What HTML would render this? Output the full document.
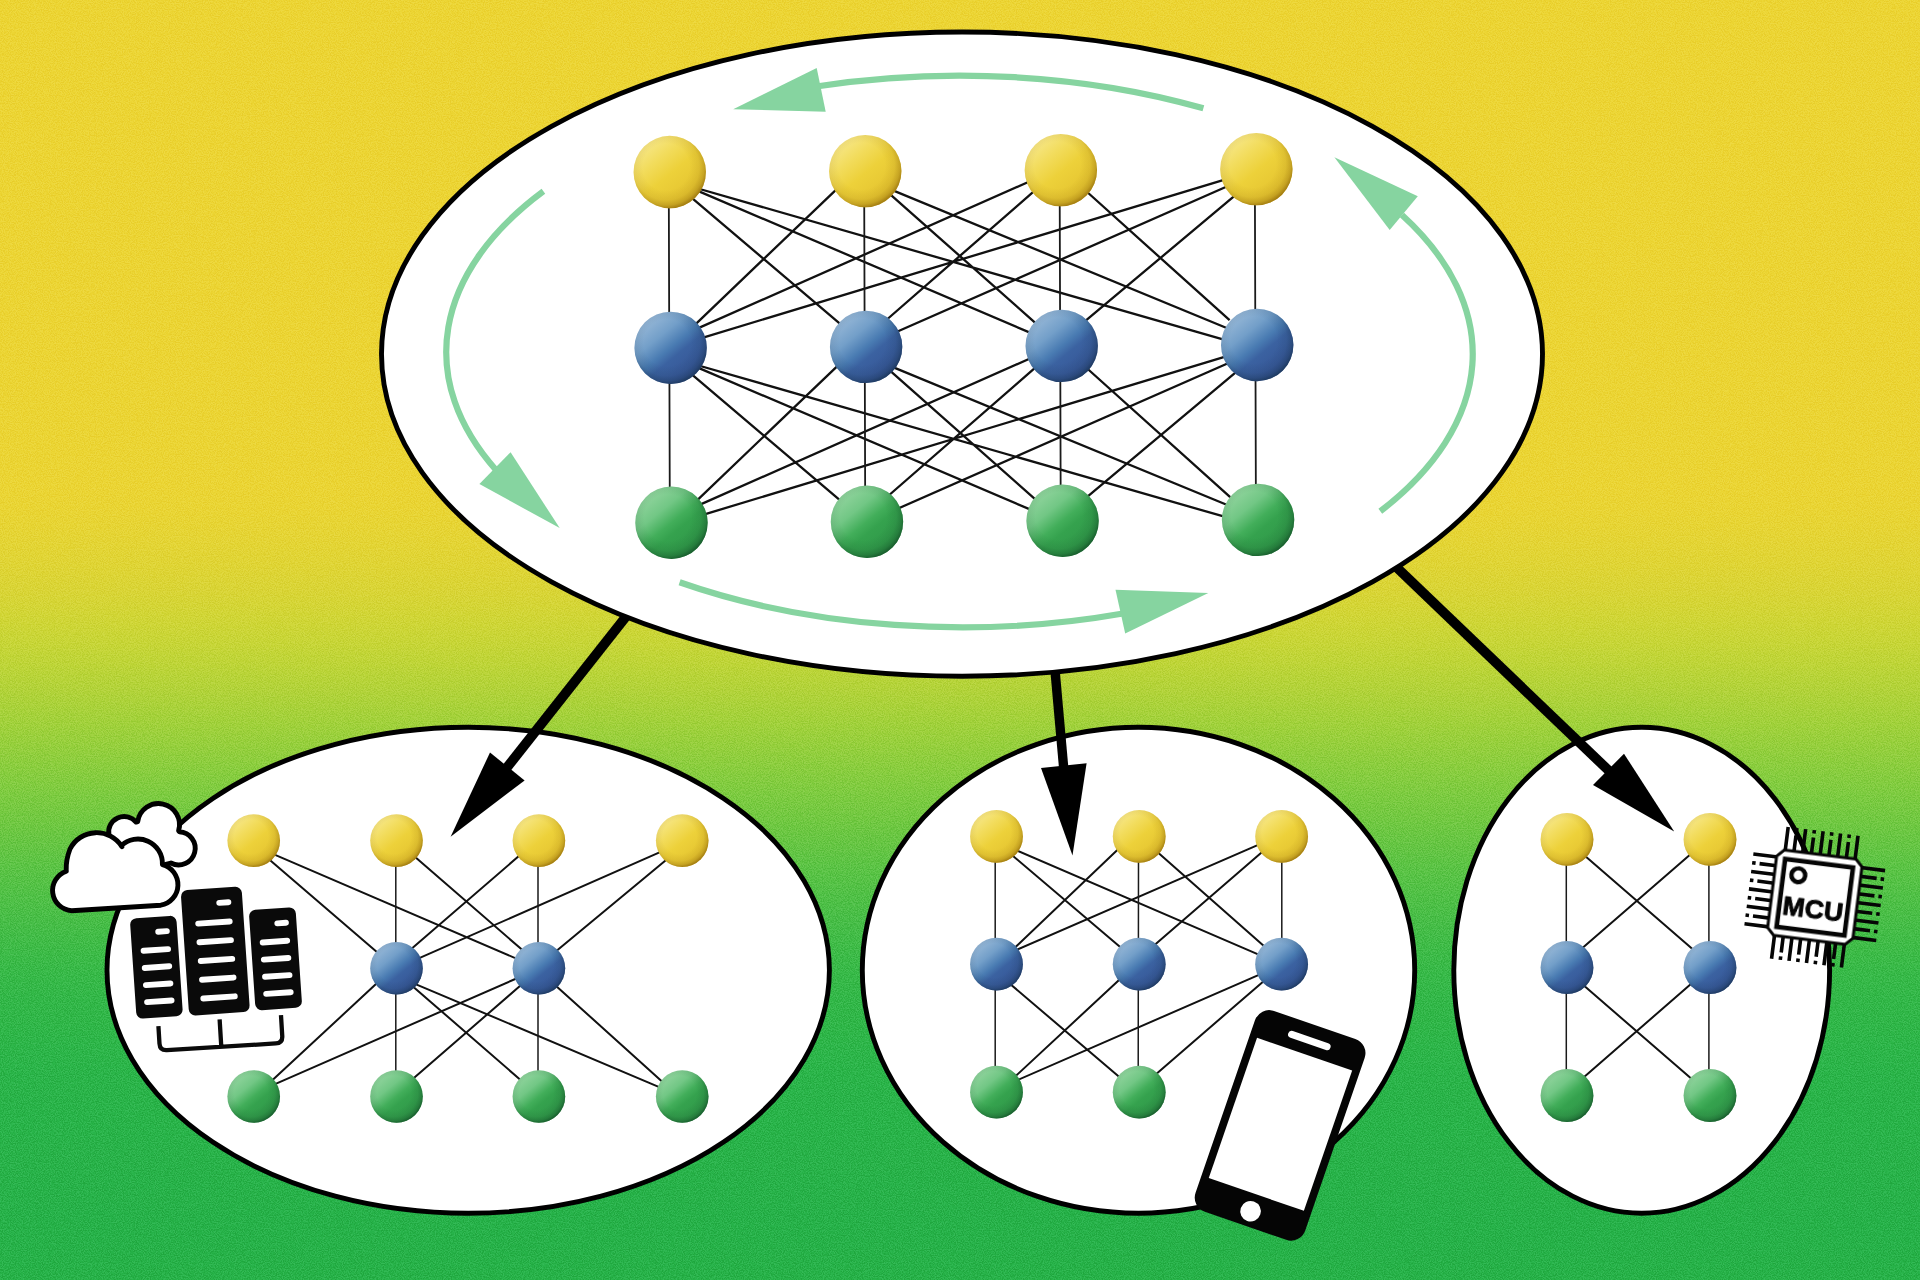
<!DOCTYPE html>
<html><head><meta charset="utf-8"><title>Once-for-all network</title>
<style>html,body{margin:0;padding:0;background:#2bb84a;overflow:hidden}body{width:1920px;height:1280px;font-family:"Liberation Sans",sans-serif}svg{display:block}</style></head><body>
<svg width="1920" height="1280" viewBox="0 0 1920 1280">
<defs>
<linearGradient id="bg" x1="0" y1="0" x2="0" y2="1"><stop offset="0.000" stop-color="#ecd533"/><stop offset="0.180" stop-color="#ecd533"/><stop offset="0.360" stop-color="#ebd533"/><stop offset="0.380" stop-color="#ebd533"/><stop offset="0.400" stop-color="#e9d533"/><stop offset="0.420" stop-color="#e5d534"/><stop offset="0.440" stop-color="#e0d534"/><stop offset="0.460" stop-color="#dad535"/><stop offset="0.480" stop-color="#d2d635"/><stop offset="0.500" stop-color="#c9d636"/><stop offset="0.520" stop-color="#bed537"/><stop offset="0.540" stop-color="#b2d339"/><stop offset="0.560" stop-color="#a5d23a"/><stop offset="0.580" stop-color="#98d03c"/><stop offset="0.600" stop-color="#8bce3e"/><stop offset="0.620" stop-color="#7ecc40"/><stop offset="0.640" stop-color="#72c941"/><stop offset="0.660" stop-color="#66c643"/><stop offset="0.680" stop-color="#5ac445"/><stop offset="0.700" stop-color="#50c146"/><stop offset="0.720" stop-color="#47be47"/><stop offset="0.740" stop-color="#3ebc47"/><stop offset="0.760" stop-color="#37ba48"/><stop offset="0.780" stop-color="#32b848"/><stop offset="0.800" stop-color="#2fb748"/><stop offset="0.820" stop-color="#2cb649"/><stop offset="0.840" stop-color="#2ab549"/><stop offset="0.860" stop-color="#29b449"/><stop offset="0.880" stop-color="#28b449"/><stop offset="0.900" stop-color="#28b349"/><stop offset="0.950" stop-color="#26b249"/><stop offset="1.000" stop-color="#26b248"/></linearGradient>
<linearGradient id="gy" x1="0.16" y1="0.08" x2="0.84" y2="0.92"><stop offset="0" stop-color="#f7e88c"/><stop offset="0.28" stop-color="#f2dc5c"/><stop offset="0.52" stop-color="#edd13a"/><stop offset="1" stop-color="#e2c02d"/></linearGradient>
<radialGradient id="gyr" cx="0.45" cy="0.43" r="0.585"><stop offset="0" stop-color="#8c6406" stop-opacity="0"/><stop offset="0.55" stop-color="#8c6406" stop-opacity="0"/><stop offset="0.78" stop-color="#8c6406" stop-opacity="0.13"/><stop offset="0.9" stop-color="#8c6406" stop-opacity="0.36"/><stop offset="1" stop-color="#8c6406" stop-opacity="0.78"/></radialGradient>
<linearGradient id="gb" x1="0.16" y1="0.08" x2="0.84" y2="0.92"><stop offset="0" stop-color="#9bbbd9"/><stop offset="0.3" stop-color="#739fc9"/><stop offset="0.5" stop-color="#497bb2"/><stop offset="0.62" stop-color="#3b62a1"/><stop offset="1" stop-color="#345293"/></linearGradient>
<radialGradient id="gbr" cx="0.45" cy="0.43" r="0.585"><stop offset="0" stop-color="#17324f" stop-opacity="0"/><stop offset="0.55" stop-color="#17324f" stop-opacity="0"/><stop offset="0.78" stop-color="#17324f" stop-opacity="0.13"/><stop offset="0.9" stop-color="#17324f" stop-opacity="0.36"/><stop offset="1" stop-color="#17324f" stop-opacity="0.78"/></radialGradient>
<linearGradient id="gg" x1="0.16" y1="0.08" x2="0.84" y2="0.92"><stop offset="0" stop-color="#95d6a1"/><stop offset="0.3" stop-color="#72c785"/><stop offset="0.5" stop-color="#42ae5a"/><stop offset="0.62" stop-color="#35a24e"/><stop offset="1" stop-color="#2e9647"/></linearGradient>
<radialGradient id="ggr" cx="0.45" cy="0.43" r="0.585"><stop offset="0" stop-color="#124a25" stop-opacity="0"/><stop offset="0.55" stop-color="#124a25" stop-opacity="0"/><stop offset="0.78" stop-color="#124a25" stop-opacity="0.13"/><stop offset="0.9" stop-color="#124a25" stop-opacity="0.36"/><stop offset="1" stop-color="#124a25" stop-opacity="0.78"/></radialGradient>
<filter id="grain" x="0" y="0" width="100%" height="100%" color-interpolation-filters="sRGB">
<feTurbulence type="fractalNoise" baseFrequency="0.85" numOctaves="2" seed="7" result="n"/>
<feColorMatrix type="matrix" values="3 0 0 0 -1  3 0 0 0 -1  3 0 0 0 -1  0 0 0 0 1"/>
</filter>
</defs>
<rect width="1920" height="1280" fill="url(#bg)"/>
<rect width="1920" height="1280" filter="url(#grain)" opacity="0.22" style="mix-blend-mode:soft-light"/>
<ellipse cx="962" cy="354.1" rx="580.5" ry="322.1" fill="#fff" stroke="#000" stroke-width="4.9"/>
<ellipse cx="468.2" cy="970.25" rx="361.2" ry="243" fill="#fff" stroke="#000" stroke-width="4.9"/>
<ellipse cx="1138.5" cy="970.25" rx="276.2" ry="243" fill="#fff" stroke="#000" stroke-width="4.9"/>
<ellipse cx="1641.7" cy="970.25" rx="187.9" ry="243" fill="#fff" stroke="#000" stroke-width="4.9"/>
<path d="M1203.4 108.3 A515 275 0 0 0 818.0 86.3" fill="none" stroke="#86d4a0" stroke-width="6.2"/>
<path d="M733.2 109.2 L816.7 68.1 L825.7 111.7 Z" fill="#86d4a0"/>
<path d="M543.4 191.3 A515 275 0 0 0 496.0 470.0" fill="none" stroke="#86d4a0" stroke-width="6.2"/>
<path d="M559.7 528.1 L510.6 452.2 L479.4 484.1 Z" fill="#86d4a0"/>
<path d="M679.6 582.3 A515 275 0 0 0 1123.0 613.5" fill="none" stroke="#86d4a0" stroke-width="6.2"/>
<path d="M1208.3 592.9 L1115.5 589.8 L1125.2 633.6 Z" fill="#86d4a0"/>
<path d="M1380.3 511.3 A515 275 0 0 0 1402.0 215.0" fill="none" stroke="#86d4a0" stroke-width="6.2"/>
<path d="M1334.4 157.2 L1417.8 196.3 L1389.7 230 Z" fill="#86d4a0"/>
<path d="M689.7 196.1L843.1 326.4M690.3 373.1L843.7 503.4M695.5 189.9L1032.9 333.9M696.1 366.9L1033.5 510.9M696.2 188.0L1227.3 340.7M696.8 365.0L1227.9 517.7M838.3 187.6L694.9 324.8M838.9 364.6L695.5 501.8M888.8 193.1L1036.4 323.8M889.4 370.1L1037.0 500.8M890.5 189.4L1229.7 329.3M891.1 366.4L1230.3 506.3M1031.1 180.8L695.5 329.4M1031.7 357.8L696.1 506.4M1036.4 189.2L885.2 321.0M1037.0 366.2L885.8 498.0M1084.9 190.0L1229.6 320.2M1085.5 367.0L1230.2 497.2M1227.2 178.8L699.8 338.6M1227.8 355.8L700.4 515.6M1229.7 185.3L894.1 333.0M1230.3 362.3L894.7 510.0M1236.0 194.6L1082.1 323.7M1236.6 371.6L1082.7 500.7" stroke="#111" stroke-width="2.3" fill="none"/>
<path d="M668.8 194.0L669.2 326.0M669.4 371.0L669.8 503.0M864.2 194.0L864.6 326.0M864.8 371.0L865.2 503.0M1059.7 194.0L1060.1 326.0M1060.3 371.0L1060.7 503.0M1254.9 192.0L1255.3 324.0M1255.5 369.0L1255.9 501.0" stroke="#1a1a1a" stroke-width="1.8" fill="none"/>
<g transform="rotate(-0.28 963.9 346.4)">
<circle cx="670.6" cy="170.6" r="36.2" fill="url(#gy)"/><circle cx="670.6" cy="170.6" r="36.2" fill="url(#gyr)"/>
<circle cx="866.1" cy="170.6" r="36.2" fill="url(#gy)"/><circle cx="866.1" cy="170.6" r="36.2" fill="url(#gyr)"/>
<circle cx="1061.7" cy="170.6" r="36.2" fill="url(#gy)"/><circle cx="1061.7" cy="170.6" r="36.2" fill="url(#gyr)"/>
<circle cx="1257.2" cy="170.6" r="36.2" fill="url(#gy)"/><circle cx="1257.2" cy="170.6" r="36.2" fill="url(#gyr)"/>
<circle cx="670.6" cy="346.4" r="36.2" fill="url(#gb)"/><circle cx="670.6" cy="346.4" r="36.2" fill="url(#gbr)"/>
<circle cx="866.1" cy="346.4" r="36.2" fill="url(#gb)"/><circle cx="866.1" cy="346.4" r="36.2" fill="url(#gbr)"/>
<circle cx="1061.7" cy="346.4" r="36.2" fill="url(#gb)"/><circle cx="1061.7" cy="346.4" r="36.2" fill="url(#gbr)"/>
<circle cx="1257.2" cy="346.4" r="36.2" fill="url(#gb)"/><circle cx="1257.2" cy="346.4" r="36.2" fill="url(#gbr)"/>
<circle cx="670.6" cy="521.3" r="36.2" fill="url(#gg)"/><circle cx="670.6" cy="521.3" r="36.2" fill="url(#ggr)"/>
<circle cx="866.1" cy="521.3" r="36.2" fill="url(#gg)"/><circle cx="866.1" cy="521.3" r="36.2" fill="url(#ggr)"/>
<circle cx="1061.7" cy="521.3" r="36.2" fill="url(#gg)"/><circle cx="1061.7" cy="521.3" r="36.2" fill="url(#ggr)"/>
<circle cx="1257.2" cy="521.3" r="36.2" fill="url(#gg)"/><circle cx="1257.2" cy="521.3" r="36.2" fill="url(#ggr)"/>
</g>
<path d="M267.5 858.0L379.2 953.9M271.6 853.3L518.7 959.6M413.1 855.2L523.6 951.1M521.5 853.8L409.5 950.4M662.9 850.9L415.8 959.7M668.5 858.1L554.5 952.4M378.4 981.8L270.4 1082.1M411.7 985.4L522.9 1082.0M413.7 983.3L662.2 1088.3M518.7 977.5L271.6 1085.6M522.2 984.0L411.0 1080.6M554.7 984.7L663.4 1082.7" stroke="#111" stroke-width="2.0" fill="none"/>
<path d="M395.8 857.0L395.8 952.0M538.0 857.0L538.0 952.0M395.8 985.0L395.8 1080.0M538.0 985.0L538.0 1080.0" stroke="#1a1a1a" stroke-width="1.5" fill="none"/>
<g>
<circle cx="253.7" cy="840.6" r="26.3" fill="url(#gy)"/><circle cx="253.7" cy="840.6" r="26.3" fill="url(#gyr)"/>
<circle cx="396.5" cy="840.6" r="26.3" fill="url(#gy)"/><circle cx="396.5" cy="840.6" r="26.3" fill="url(#gyr)"/>
<circle cx="538.9" cy="840.6" r="26.3" fill="url(#gy)"/><circle cx="538.9" cy="840.6" r="26.3" fill="url(#gyr)"/>
<circle cx="682.2" cy="840.6" r="26.3" fill="url(#gy)"/><circle cx="682.2" cy="840.6" r="26.3" fill="url(#gyr)"/>
<circle cx="396.5" cy="968.3" r="26.3" fill="url(#gb)"/><circle cx="396.5" cy="968.3" r="26.3" fill="url(#gbr)"/>
<circle cx="538.9" cy="968.3" r="26.3" fill="url(#gb)"/><circle cx="538.9" cy="968.3" r="26.3" fill="url(#gbr)"/>
<circle cx="253.7" cy="1096.5" r="26.3" fill="url(#gg)"/><circle cx="253.7" cy="1096.5" r="26.3" fill="url(#ggr)"/>
<circle cx="396.5" cy="1096.5" r="26.3" fill="url(#gg)"/><circle cx="396.5" cy="1096.5" r="26.3" fill="url(#ggr)"/>
<circle cx="538.9" cy="1096.5" r="26.3" fill="url(#gg)"/><circle cx="538.9" cy="1096.5" r="26.3" fill="url(#ggr)"/>
<circle cx="682.2" cy="1096.5" r="26.3" fill="url(#gg)"/><circle cx="682.2" cy="1096.5" r="26.3" fill="url(#ggr)"/>
</g>
<path d="M1010.4 853.8L1122.8 949.2M1014.5 849.4L1262.2 956.1M1120.2 847.3L1012.7 949.7M1156.2 850.9L1265.6 947.5M1262.2 843.1L1013.8 951.1M1265.0 849.5L1152.8 946.5M1008.3 982.4L1121.4 1078.8M1122.0 977.3L1014.0 1077.6M1262.9 973.1L1015.2 1081.1M1266.2 978.9L1154.5 1075.4" stroke="#111" stroke-width="2.0" fill="none"/>
<path d="M995.2 853.0L995.2 948.0M1138.5 853.0L1138.4 948.0M1281.8 853.0L1281.8 948.0M995.2 981.0L995.2 1076.0M1138.3 981.0L1138.2 1076.0" stroke="#1a1a1a" stroke-width="1.5" fill="none"/>
<g>
<circle cx="996.5" cy="836.4" r="26.4" fill="url(#gy)"/><circle cx="996.5" cy="836.4" r="26.4" fill="url(#gyr)"/>
<circle cx="1139.2" cy="836.4" r="26.4" fill="url(#gy)"/><circle cx="1139.2" cy="836.4" r="26.4" fill="url(#gyr)"/>
<circle cx="1281.6" cy="836.4" r="26.4" fill="url(#gy)"/><circle cx="1281.6" cy="836.4" r="26.4" fill="url(#gyr)"/>
<circle cx="996.5" cy="964.2" r="26.4" fill="url(#gb)"/><circle cx="996.5" cy="964.2" r="26.4" fill="url(#gbr)"/>
<circle cx="1139.2" cy="964.2" r="26.4" fill="url(#gb)"/><circle cx="1139.2" cy="964.2" r="26.4" fill="url(#gbr)"/>
<circle cx="1281.6" cy="964.2" r="26.4" fill="url(#gb)"/><circle cx="1281.6" cy="964.2" r="26.4" fill="url(#gbr)"/>
<circle cx="996.5" cy="1092.2" r="26.4" fill="url(#gg)"/><circle cx="996.5" cy="1092.2" r="26.4" fill="url(#ggr)"/>
<circle cx="1139.2" cy="1092.2" r="26.4" fill="url(#gg)"/><circle cx="1139.2" cy="1092.2" r="26.4" fill="url(#ggr)"/>
</g>
<path d="M1582.5 853.7L1694.2 950.4M1692.0 853.0L1580.4 949.7M1581.8 983.8L1693.5 1080.5M1693.5 981.7L1581.8 1079.0" stroke="#111" stroke-width="2.0" fill="none"/>
<path d="M1566.3 856.0L1566.3 951.0M1708.9 856.0L1708.9 951.0M1566.3 984.0L1566.3 1079.0M1708.9 984.0L1708.9 1079.0" stroke="#1a1a1a" stroke-width="1.5" fill="none"/>
<g>
<circle cx="1567.0" cy="839.4" r="26.4" fill="url(#gy)"/><circle cx="1567.0" cy="839.4" r="26.4" fill="url(#gyr)"/>
<circle cx="1710.0" cy="839.4" r="26.4" fill="url(#gy)"/><circle cx="1710.0" cy="839.4" r="26.4" fill="url(#gyr)"/>
<circle cx="1567.0" cy="967.5" r="26.4" fill="url(#gb)"/><circle cx="1567.0" cy="967.5" r="26.4" fill="url(#gbr)"/>
<circle cx="1710.0" cy="967.5" r="26.4" fill="url(#gb)"/><circle cx="1710.0" cy="967.5" r="26.4" fill="url(#gbr)"/>
<circle cx="1567.0" cy="1095.5" r="26.4" fill="url(#gg)"/><circle cx="1567.0" cy="1095.5" r="26.4" fill="url(#ggr)"/>
<circle cx="1710.0" cy="1095.5" r="26.4" fill="url(#gg)"/><circle cx="1710.0" cy="1095.5" r="26.4" fill="url(#ggr)"/>
</g>
<path d="M625.5 617.2L505 770" stroke="#000" stroke-width="9.8" fill="none"/>
<path d="M450.6 836.7L490 752.5L524.6 780.5Z" fill="#000"/>
<path d="M1055.1 671.5L1063.7 768" stroke="#000" stroke-width="9.4" fill="none"/>
<path d="M1072.5 855.6L1041 767.9L1086.6 763.2Z" fill="#000"/>
<path d="M1396.5 567.3L1610.5 772.3" stroke="#000" stroke-width="9.8" fill="none"/>
<path d="M1674.2 831.5L1624 753.7L1593 785.1Z" fill="#000"/>
<path d="M108.9 834.8 A15.5 15.5 0 0 1 136.1 822.1 L137.7 821.6 A21.0 21.0 0 1 1 178.6 830.6 L179.3 831.7 A16.6 16.6 0 1 1 170.9 863.0 L160.8 865.7 L149.4 866.6 L116.6 855.6 Z" fill="#fff" stroke="#000" stroke-width="4.9" stroke-linejoin="round"/>
<path d="M122.0 846.7 A29.9 29.9 0 0 0 70.0 849.0 Q65.8 860.0 66.2 870.5 L66.4 871.2 A20.3 20.3 0 0 0 71.7 910.7 L160.8 905.2 A20.8 20.8 0 0 0 162.4 864.6 L162.4 864.3 A24.5 24.5 0 0 0 121.1 845.7 Z" fill="#fff" stroke="#000" stroke-width="4.9" stroke-linejoin="round"/>
<g transform="translate(156.4 967.2) rotate(-3.9)">
<rect x="-23.25" y="-50.3" width="46.5" height="100.6" rx="6.5" fill="#0a0a0a"/>
<rect x="1.3" y="-38.2" width="14.5" height="5.9" rx="2.95" fill="#fff"/>
<rect x="-14.6" y="-20.2" width="30.4" height="5.9" rx="2.95" fill="#fff"/>
<rect x="-14.6" y="-3.0" width="30.4" height="5.9" rx="2.95" fill="#fff"/>
<rect x="-14.6" y="14.2" width="30.4" height="5.9" rx="2.95" fill="#fff"/>
<rect x="-14.6" y="31.3" width="30.4" height="5.9" rx="2.95" fill="#fff"/>
</g>
<g transform="translate(215.3 951.1) rotate(-3.9)">
<rect x="-30.5" y="-62.8" width="61" height="125.6" rx="6.5" fill="#0a0a0a"/>
<rect x="4.3" y="-50.8" width="15" height="5.9" rx="2.95" fill="#fff"/>
<rect x="-18.1" y="-31.5" width="37.4" height="5.9" rx="2.95" fill="#fff"/>
<rect x="-18.1" y="-12.8" width="37.4" height="5.9" rx="2.95" fill="#fff"/>
<rect x="-18.1" y="6.0" width="37.4" height="5.9" rx="2.95" fill="#fff"/>
<rect x="-18.1" y="24.7" width="37.4" height="5.9" rx="2.95" fill="#fff"/>
<rect x="-18.1" y="43.5" width="37.4" height="5.9" rx="2.95" fill="#fff"/>
</g>
<g transform="translate(275.5 958.8) rotate(-3.9)">
<rect x="-23.4" y="-50.3" width="46.8" height="100.6" rx="6.5" fill="#0a0a0a"/>
<rect x="1.3" y="-38.2" width="14.5" height="5.9" rx="2.95" fill="#fff"/>
<rect x="-14.6" y="-20.1" width="30.4" height="5.9" rx="2.95" fill="#fff"/>
<rect x="-14.6" y="-2.9" width="30.4" height="5.9" rx="2.95" fill="#fff"/>
<rect x="-14.6" y="14.3" width="30.4" height="5.9" rx="2.95" fill="#fff"/>
<rect x="-14.6" y="31.4" width="30.4" height="5.9" rx="2.95" fill="#fff"/>
</g>
<g transform="translate(221.3 1046.8) rotate(-3.5)" fill="none" stroke="#0a0a0a" stroke-width="4.3">
<path d="M-61.5 -24.5 V-7 Q-61.5 0 -54.5 0 H54.5 Q61.5 0 61.5 -7 V-28 M0 0 V-27.5"/>
</g>
<g transform="translate(1280.1 1125.4) rotate(19)">
<rect x="-58" y="-106.2" width="116" height="212.4" rx="15" fill="#050505"/>
<rect x="-50.3" y="-75.3" width="100.6" height="148.3" fill="#fff"/>
<rect x="-22.3" y="-93.4" width="44.6" height="7.2" rx="3.6" fill="#fff"/>
<circle cx="0" cy="90.8" r="10.3" fill="#fff"/>
</g>
<g transform="translate(1814.8 897.2) rotate(7.2)">
<path transform="rotate(0)" d="M-42 -35.2H-66.4M-42 -26.4H-59M-63 -26.4H-66.5M-42 -17.6H-66.4M-42 -8.8H-59M-63 -8.8H-66.5M-42 0.0H-66.4M-42 8.8H-59M-63 8.8H-66.5M-42 17.6H-66.4M-42 26.4H-59M-63 26.4H-66.5M-42 35.2H-66.4" stroke="#050505" stroke-width="3.6" fill="none"/>
<path transform="rotate(90)" d="M-42 -35.2H-66.4M-42 -26.4H-59M-63 -26.4H-66.5M-42 -17.6H-66.4M-42 -8.8H-59M-63 -8.8H-66.5M-42 0.0H-66.4M-42 8.8H-59M-63 8.8H-66.5M-42 17.6H-66.4M-42 26.4H-59M-63 26.4H-66.5M-42 35.2H-66.4" stroke="#050505" stroke-width="3.6" fill="none"/>
<path transform="rotate(180)" d="M-42 -35.2H-66.4M-42 -26.4H-59M-63 -26.4H-66.5M-42 -17.6H-66.4M-42 -8.8H-59M-63 -8.8H-66.5M-42 0.0H-66.4M-42 8.8H-59M-63 8.8H-66.5M-42 17.6H-66.4M-42 26.4H-59M-63 26.4H-66.5M-42 35.2H-66.4" stroke="#050505" stroke-width="3.6" fill="none"/>
<path transform="rotate(270)" d="M-42 -35.2H-66.4M-42 -26.4H-59M-63 -26.4H-66.5M-42 -17.6H-66.4M-42 -8.8H-59M-63 -8.8H-66.5M-42 0.0H-66.4M-42 8.8H-59M-63 8.8H-66.5M-42 17.6H-66.4M-42 26.4H-59M-63 26.4H-66.5M-42 35.2H-66.4" stroke="#050505" stroke-width="3.6" fill="none"/>
<path d="M-36 -43H36L43 -36V36L36 43H-36L-43 36V-36Z" fill="#fff" stroke="#050505" stroke-width="3"/>
<rect x="-34.2" y="-34.2" width="68.4" height="68.4" fill="#fff" stroke="#050505" stroke-width="4.6"/>
<circle cx="-19.1" cy="-19.7" r="6.9" fill="none" stroke="#050505" stroke-width="4.4"/>
<text x="-0.4" y="20.7" text-anchor="middle" font-family="Liberation Sans, sans-serif" font-weight="700" font-size="26.6" fill="#050505" stroke="#050505" stroke-width="0.9" stroke-linejoin="round">MCU</text>
</g>
</svg></body></html>
